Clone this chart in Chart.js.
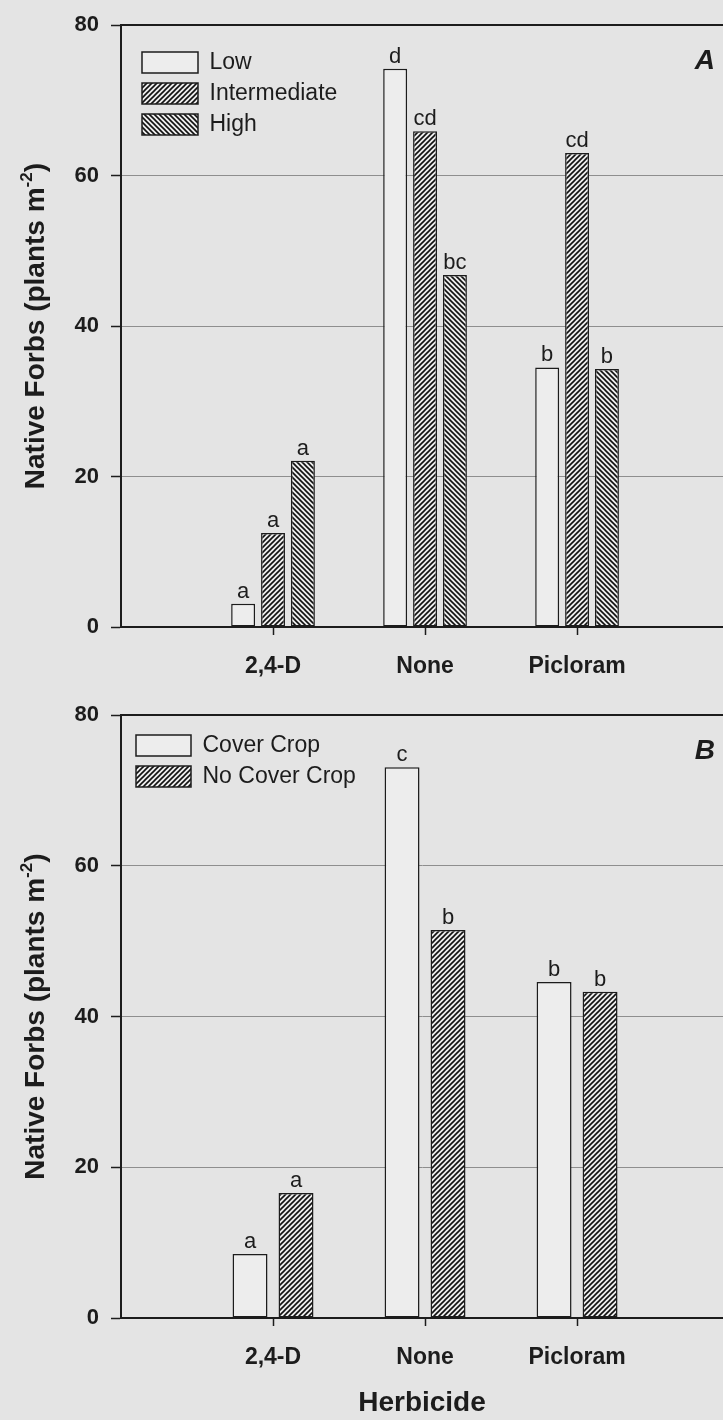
<!DOCTYPE html>
<html>
<head>
<meta charset="utf-8">
<script src="https://cdn.jsdelivr.net/npm/chart.js@4.4.1/dist/chart.umd.min.js"></script>
<style>
  html, body { margin: 0; padding: 0; background: #e4e4e4; }
  body { width: 723px; height: 1420px; overflow: hidden; position: relative; }
  .panel { position: absolute; left: 0; width: 723px; }
  #panelA { top: 0; height: 690px; }
  #panelB { top: 690px; height: 730px; }
</style>
</head>
<body>
<div class="panel" id="panelA"><canvas id="chartA"></canvas></div>
<div class="panel" id="panelB"><canvas id="chartB"></canvas></div>
<script>
const herbicides = ['2,4-D', 'None', 'Picloram'];
const yTicks = [0, 20, 40, 60, 80];

// panel A
const lowVals = [3.1, 74.2, 34.5];
const intermediateVals = [12.5, 65.9, 63.0];
const highVals = [22.1, 46.8, 34.3];
const lowLetters = ['a', 'd', 'b'];
const intermediateLetters = ['a', 'cd', 'cd'];
const highLetters = ['a', 'bc', 'b'];

// panel B
const coverVals = [8.5, 73.1, 44.6];
const noCoverVals = [16.6, 51.5, 43.3];
const coverLetters = ['a', 'c', 'b'];
const noCoverLetters = ['a', 'b', 'b'];

const yTitleMain = 'Native Forbs (plants m';
const yTitleSup = '-2';
const yTitleEnd = ')';

const FONT = '"Liberation Sans", Arial, sans-serif';
const INK = '#1c1c1c';
const BAR_FILL = '#ededed';
Chart.defaults.font.family = FONT;
Chart.defaults.color = INK;

function hatch(dir) {
  const s = 5;
  const c = document.createElement('canvas');
  c.width = s; c.height = s;
  const g = c.getContext('2d');
  g.fillStyle = BAR_FILL;
  g.fillRect(0, 0, s, s);
  g.strokeStyle = '#111';
  g.lineWidth = 1.6;
  g.beginPath();
  if (dir === '/') {
    g.moveTo(-1, s + 1); g.lineTo(s + 1, -1);
    g.moveTo(-1, 1); g.lineTo(1, -1);
    g.moveTo(s - 1, s + 1); g.lineTo(s + 1, s - 1);
  } else {
    g.moveTo(-1, -1); g.lineTo(s + 1, s + 1);
    g.moveTo(s - 1, -1); g.lineTo(s + 1, 1);
    g.moveTo(-1, s - 1); g.lineTo(1, s + 1);
  }
  g.stroke();
  return g.createPattern(c, 'repeat');
}

function points(vals) {
  return vals.map((v, i) => ({ x: i + 1, y: v }));
}

function bars(label, vals, letters, fill) {
  return {
    label: label,
    data: points(vals),
    letters: letters,
    backgroundColor: fill,
    borderColor: INK,
    borderWidth: 1.5,
    borderSkipped: false
  };
}

// letters over bars, panel tag, y title with superscript
const annotate = {
  id: 'annotate',
  afterLayout(chart, args, opts) {
    if (chart.legend) {
      chart.legend.left += opts.legendDx;
      chart.legend.top += opts.legendDy;
    }
  },
  afterDatasetsDraw(chart, args, opts) {
    const ctx = chart.ctx;
    const area = chart.chartArea;
    ctx.save();
    ctx.fillStyle = INK;
    ctx.font = '22px ' + FONT;
    ctx.textAlign = 'center';
    ctx.textBaseline = 'alphabetic';
    chart.data.datasets.forEach((ds, di) => {
      chart.getDatasetMeta(di).data.forEach((bar, i) => {
        ctx.fillText(ds.letters[i], bar.x, bar.y - 6);
      });
    });

    ctx.font = 'italic bold 28px ' + FONT;
    ctx.textAlign = 'right';
    ctx.fillText(opts.panel, area.right - 8, area.top + 44);

    const big = 'bold 28px ' + FONT;
    const small = 'bold 17px ' + FONT;
    ctx.font = big;
    const w1 = ctx.measureText(yTitleMain).width;
    const w3 = ctx.measureText(yTitleEnd).width;
    ctx.font = small;
    const w2 = ctx.measureText(yTitleSup).width;
    ctx.translate(44, (area.top + area.bottom) / 2);
    ctx.rotate(-Math.PI / 2);
    ctx.textAlign = 'left';
    let x = -(w1 + w2 + w3) / 2;
    ctx.font = big;
    ctx.fillText(yTitleMain, x, 0);
    x += w1;
    ctx.font = small;
    ctx.fillText(yTitleSup, x, -12);
    x += w2;
    ctx.font = big;
    ctx.fillText(yTitleEnd, x, 0);
    ctx.restore();
  }
};

function panelConfig(datasets, p) {
  return {
    type: 'bar',
    data: { datasets: datasets },
    plugins: [annotate],
    options: {
      responsive: true,
      maintainAspectRatio: false,
      animation: false,
      categoryPercentage: p.catPct,
      barPercentage: p.barPct,
      layout: { padding: { top: p.padTop, left: 0, right: 0, bottom: 0 } },
      plugins: {
        tooltip: { enabled: false },
        legend: {
          position: 'chartArea',
          align: 'start',
          labels: {
            boxWidth: p.boxW, boxHeight: 21, padding: 8,
            color: INK, font: { size: 23 }
          }
        },
        annotate: { panel: p.panel, legendDx: p.legendDx, legendDy: p.legendDy }
      },
      scales: {
        x: {
          type: 'linear', min: 0, max: 3.96, offset: false,
          afterBuildTicks: s => { s.ticks = herbicides.map((h, i) => ({ value: i + 1 })); },
          afterFit: s => { s.height = p.xHeight; },
          ticks: {
            autoSkip: false, maxRotation: 0, padding: 18, color: INK,
            font: { size: 23, weight: 'bold' },
            callback: v => herbicides[Math.round(v) - 1]
          },
          grid: { offset: false, drawOnChartArea: false, drawTicks: true, tickLength: 8, tickColor: INK, tickWidth: 1.5 },
          border: { color: INK, width: 2 },
          title: {
            display: !!p.xTitle, text: p.xTitle, color: INK,
            font: { size: 28, weight: 'bold' }, padding: { top: 0, bottom: 0 }
          }
        },
        xTop: {
          type: 'linear', position: 'top', min: 0, max: 3.96, offset: false,
          afterFit: s => { s.height = 0; },
          ticks: { display: false },
          grid: { offset: false, drawOnChartArea: false, drawTicks: false },
          border: { color: INK, width: 2 }
        },
        y: {
          min: yTicks[0], max: yTicks[yTicks.length - 1],
          afterBuildTicks: s => { s.ticks = yTicks.map(v => ({ value: v })); },
          afterFit: s => { s.width = 121; },
          ticks: { padding: 12, color: INK, font: { size: 22, weight: 'bold' } },
          grid: { color: '#8e8e8e', lineWidth: 1, tickLength: 10, tickColor: INK, tickWidth: 1.5 },
          border: { color: INK, width: 2 }
        }
      }
    }
  };
}

const slash = hatch('/');
const backslash = hatch('\\');

new Chart(document.getElementById('chartA'), panelConfig([
  bars('Low', lowVals, lowLetters, BAR_FILL),
  bars('Intermediate', intermediateVals, intermediateLetters, slash),
  bars('High', highVals, highLetters, backslash)
], { panel: 'A', padTop: 24, xHeight: 63, catPct: 0.59, barPct: 0.8, boxW: 56, legendDx: 13, legendDy: 43, xTitle: '' }));

new Chart(document.getElementById('chartB'), panelConfig([
  bars('Cover Crop', coverVals, coverLetters, BAR_FILL),
  bars('No Cover Crop', noCoverVals, noCoverLetters, slash)
], { panel: 'B', padTop: 17, xHeight: 102, catPct: 0.605, barPct: 0.76, boxW: 55, legendDx: 7, legendDy: 36, xTitle: 'Herbicide' }));
</script>
</body>
</html>
